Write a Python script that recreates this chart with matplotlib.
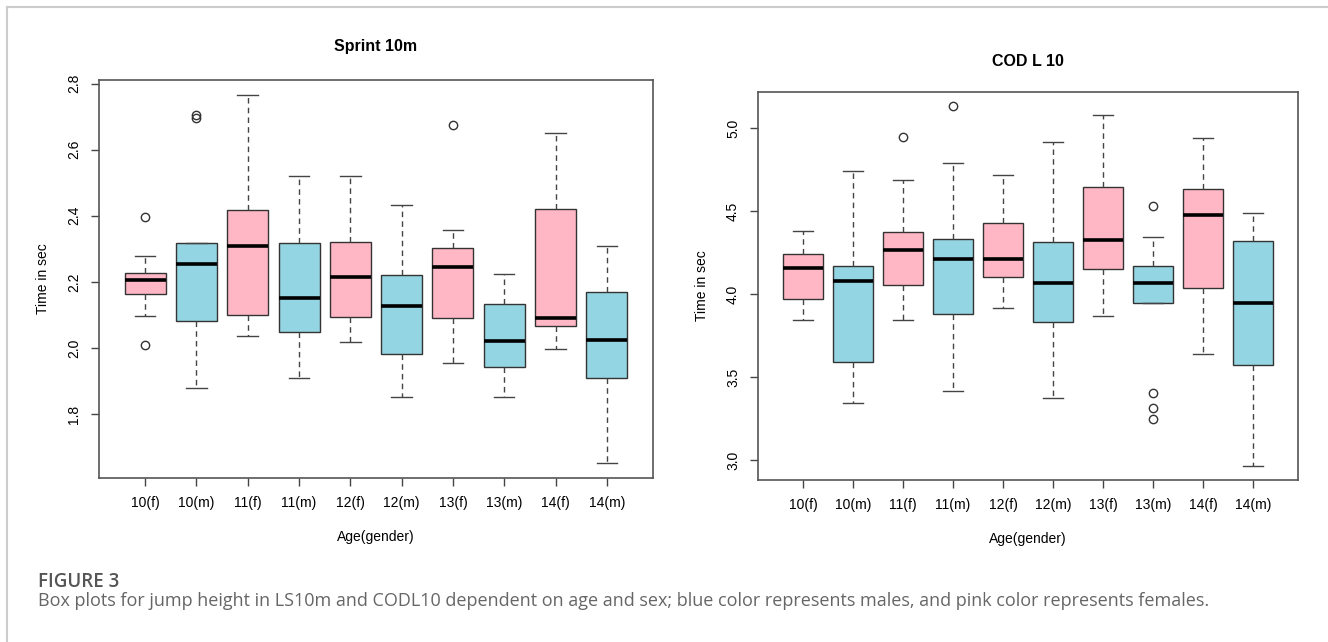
import matplotlib
matplotlib.use('Agg')
import matplotlib.pyplot as plt
from matplotlib.lines import Line2D

labels = ['10(f)', '10(m)', '11(f)', '11(m)', '12(f)', '12(m)', '13(f)', '13(m)', '14(f)', '14(m)']
sexes = ['f', 'm', 'f', 'm', 'f', 'm', 'f', 'm', 'f', 'm']

# Sprint 10m
sp_whislo = [2.096, 1.880, 2.036, 1.910, 2.018, 1.852, 1.955, 1.852, 1.997, 1.651]
sp_q1 = [2.162, 2.082, 2.101, 2.049, 2.095, 1.983, 2.091, 1.941, 2.067, 1.908]
sp_med = [2.206, 2.255, 2.308, 2.150, 2.215, 2.127, 2.244, 2.021, 2.090, 2.023]
sp_q3 = [2.228, 2.318, 2.418, 2.318, 2.320, 2.222, 2.301, 2.134, 2.421, 2.168]
sp_whishi = [2.278, 2.318, 2.766, 2.519, 2.519, 2.431, 2.358, 2.225, 2.651, 2.308]
sp_fliers = [[2.396, 2.008], [2.695, 2.705], [], [], [], [], [2.675], [], [], []]

# COD L 10
cod_whislo = [3.845, 3.345, 3.845, 3.416, 3.918, 3.372, 3.867, 3.948, 3.639, 2.966]
cod_q1 = [3.972, 3.590, 4.054, 3.878, 4.101, 3.830, 4.151, 3.948, 4.038, 3.571]
cod_med = [4.159, 4.082, 4.267, 4.213, 4.211, 4.066, 4.329, 4.066, 4.480, 3.948]
cod_q3 = [4.243, 4.173, 4.373, 4.333, 4.428, 4.317, 4.645, 4.173, 4.633, 4.323]
cod_whishi = [4.384, 4.741, 4.691, 4.791, 4.719, 4.916, 5.078, 4.343, 4.944, 4.488]
cod_fliers = [[], [], [4.946], [5.133], [], [], [], [4.530, 3.404, 3.311, 3.249], [], []]

pink = '#FFB7C5'
blue = '#93D5E3'
W, H = 1328, 642

plt.rcParams['font.family'] = ['Liberation Sans', 'DejaVu Sans']

fig = plt.figure(figsize=(W / 100, H / 100), dpi=100)


def px_axes(x0, y0, x1, y1):
    return fig.add_axes([x0 / W, 1 - y1 / H, (x1 - x0) / W, (y1 - y0) / H])


def draw_panel(ax, whislo, q1, med, q3, whishi, fliers, yticks, title, title_y):
    stats = []
    for i in range(len(labels)):
        stats.append(dict(whislo=whislo[i], q1=q1[i], med=med[i], q3=q3[i],
                          whishi=whishi[i], fliers=fliers[i]))
    bp = ax.bxp(stats, positions=range(1, len(labels) + 1), widths=0.8,
                patch_artist=True, manage_ticks=False,
                boxprops=dict(edgecolor='#333333', linewidth=1.0),
                whiskerprops=dict(color='#444444', linewidth=1.0, linestyle=(0, (4, 3))),
                capprops=dict(color='#444444', linewidth=1.0),
                medianprops=dict(color='black', linewidth=2.6),
                flierprops=dict(marker='o', markerfacecolor='none',
                                markeredgecolor='#333333', markersize=6, markeredgewidth=1.0))
    for patch, s in zip(bp['boxes'], sexes):
        patch.set_facecolor(pink if s == 'f' else blue)

    allv = whislo + whishi + [v for f in fliers for v in f]
    lo, hi = min(allv), max(allv)
    pad = (hi - lo) * 0.04
    ax.set_ylim(lo - pad, hi + pad)
    ax.set_xlim(0.1, 10.9)

    ax.set_xticks(range(1, len(labels) + 1))
    ax.set_xticklabels(labels, fontsize=10)
    ax.set_yticks(yticks)
    ax.set_yticklabels([f'{t:.1f}' for t in yticks], rotation=90, va='center', fontsize=10)
    ax.tick_params(axis='both', direction='out', length=6, width=1.0, color='#444444', pad=7)
    for sp in ax.spines.values():
        sp.set_color('#555555')
        sp.set_linewidth(1.2)
    ax.set_xlabel('Age(gender)', fontsize=10, labelpad=14)
    ax.set_ylabel('Time in sec', fontsize=10, labelpad=12)

    pos = ax.get_position()
    fig.text(pos.x0 + pos.width / 2, 1 - title_y / H, title, ha='center', va='center',
             fontsize=11.5, fontweight='bold')


ax1 = px_axes(99, 80, 653, 478)
draw_panel(ax1, sp_whislo, sp_q1, sp_med, sp_q3, sp_whishi, sp_fliers,
           [1.8, 2.0, 2.2, 2.4, 2.6, 2.8], 'Sprint 10m', 47)

ax2 = px_axes(758, 92, 1298, 480)
draw_panel(ax2, cod_whislo, cod_q1, cod_med, cod_q3, cod_whishi, cod_fliers,
           [3.0, 3.5, 4.0, 4.5, 5.0], 'COD L 10', 61)

# page frame
fig.add_artist(Line2D([7 / W, 7 / W], [0, 1 - 7 / H], transform=fig.transFigure,
                      color='#cccccc', linewidth=1.5))
fig.add_artist(Line2D([7 / W, 1], [1 - 7 / H, 1 - 7 / H], transform=fig.transFigure,
                      color='#cccccc', linewidth=1.5))

# caption
fig.text(38 / W, 1 - 582 / H, 'FIGURE 3', fontsize=13.5, fontweight='semibold',
         color='#555555', va='center', family=['Open Sans', 'DejaVu Sans'])
fig.text(38 / W, 1 - 601 / H,
         'Box plots for jump height in LS10m and CODL10 dependent on age and sex; '
         'blue color represents males, and pink color represents females.',
         fontsize=13, color='#666666', va='center', family=['Open Sans', 'DejaVu Sans'])

fig.savefig('out.png', dpi=100)
